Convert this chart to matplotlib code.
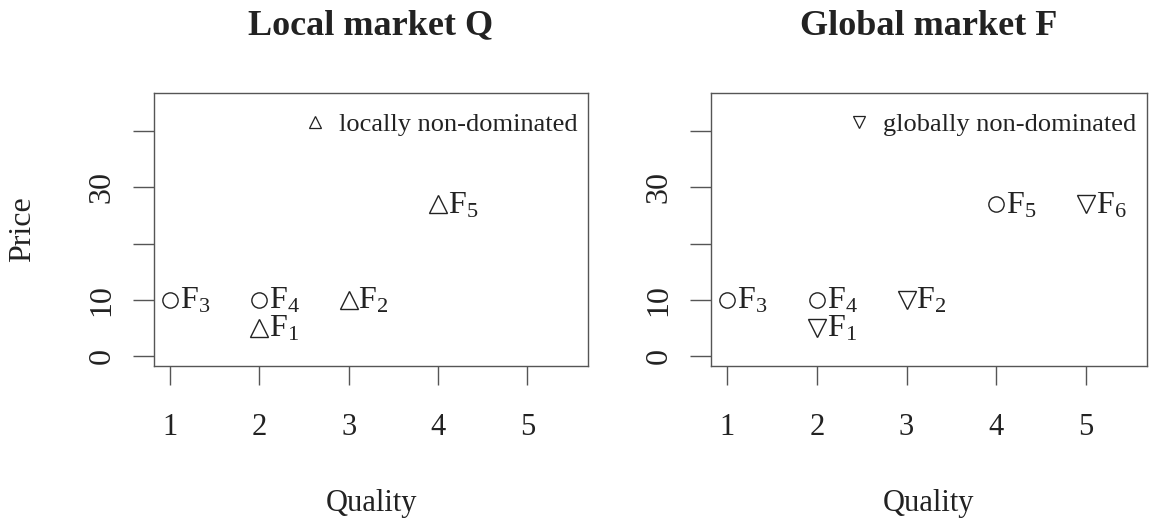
import matplotlib
matplotlib.use("Agg")
import matplotlib.pyplot as plt
from matplotlib.lines import Line2D

plt.rcParams['font.family'] = ['Liberation Serif', 'DejaVu Serif']
plt.rcParams['mathtext.fontset'] = 'custom'
plt.rcParams['mathtext.rm'] = 'Liberation Serif'
plt.rcParams['mathtext.it'] = 'Liberation Serif:italic'

# firms: quality, price
names = ['1', '2', '3', '4', '5', '6']
quality = [2, 3, 1, 2, 4, 5]
price = [5, 10, 10, 10, 27, 27]

# which firms are in each market and which are non-dominated there
local_firms = ['1', '2', '3', '4', '5']
local_nd = ['1', '2', '5']
global_firms = ['1', '2', '3', '4', '5', '6']
global_nd = ['1', '2', '6']

titles = ['Local market Q', 'Global market F']
legend_labels = ['locally non-dominated', 'globally non-dominated']
xticks = [1, 2, 3, 4, 5]
yticks = [0, 10, 20, 30, 40]
ytick_labels = ['0', '10', '', '30', '']

ink = '#222222'
edge = '#555555'

fig = plt.figure(figsize=(11.51, 5.28), dpi=100)
ax1 = fig.add_axes([154/1151, 1-366/528, (588-154)/1151, (366-93)/528])
ax2 = fig.add_axes([711/1151, 1-366/528, (1147-711)/1151, (366-93)/528])

panels = [(ax1, local_firms, local_nd, '^'), (ax2, global_firms, global_nd, 'v')]
for i, (ax, firms, nd, mk) in enumerate(panels):
    for f in firms:
        k = names.index(f)
        m = mk if f in nd else 'o'
        ms = 13 if f in nd else 11
        ax.plot(quality[k], price[k], marker=m, ms=ms, mfc='none', mec=ink, mew=1.0,
                linestyle='none')
        ax.annotate(r'$\mathrm{F}_{%s}$' % f, (quality[k], price[k]),
                    xytext=(7, -6.5), textcoords='offset points',
                    ha='left', va='baseline', fontsize=23, color=ink)
    ax.set_xlim(0.82, 5.68)
    ax.set_ylim(-1.8, 46.8)
    ax.set_xticks(xticks)
    ax.set_yticks(yticks)
    ax.set_yticklabels(ytick_labels, rotation=90, va='center')
    ax.tick_params(axis='x', length=14, width=1, color=edge, pad=20, labelsize=22,
                   labelcolor=ink)
    ax.tick_params(axis='y', length=15, width=1, color=edge, pad=12, labelsize=23,
                   labelcolor=ink)
    for s in ax.spines.values():
        s.set_color(edge)
        s.set_linewidth(1.0)
    ax.set_xlabel('Quality', fontsize=22, color=ink, labelpad=34)
    ax.set_title(titles[i], fontsize=26, fontweight='bold', color=ink, pad=42)
    h = Line2D([], [], marker=mk, ms=9, mfc='none', mec=ink, mew=0.9, linestyle='none')
    ax.legend([h], [legend_labels[i]], loc='upper right', bbox_to_anchor=(1.0, 0.967),
              frameon=False, fontsize=19, handlelength=1.0, handletextpad=0.4,
              borderaxespad=0.0, labelcolor=ink)

ax1.set_ylabel('Price', fontsize=23, color=ink, labelpad=36)

fig.savefig('out.png', dpi=100)
